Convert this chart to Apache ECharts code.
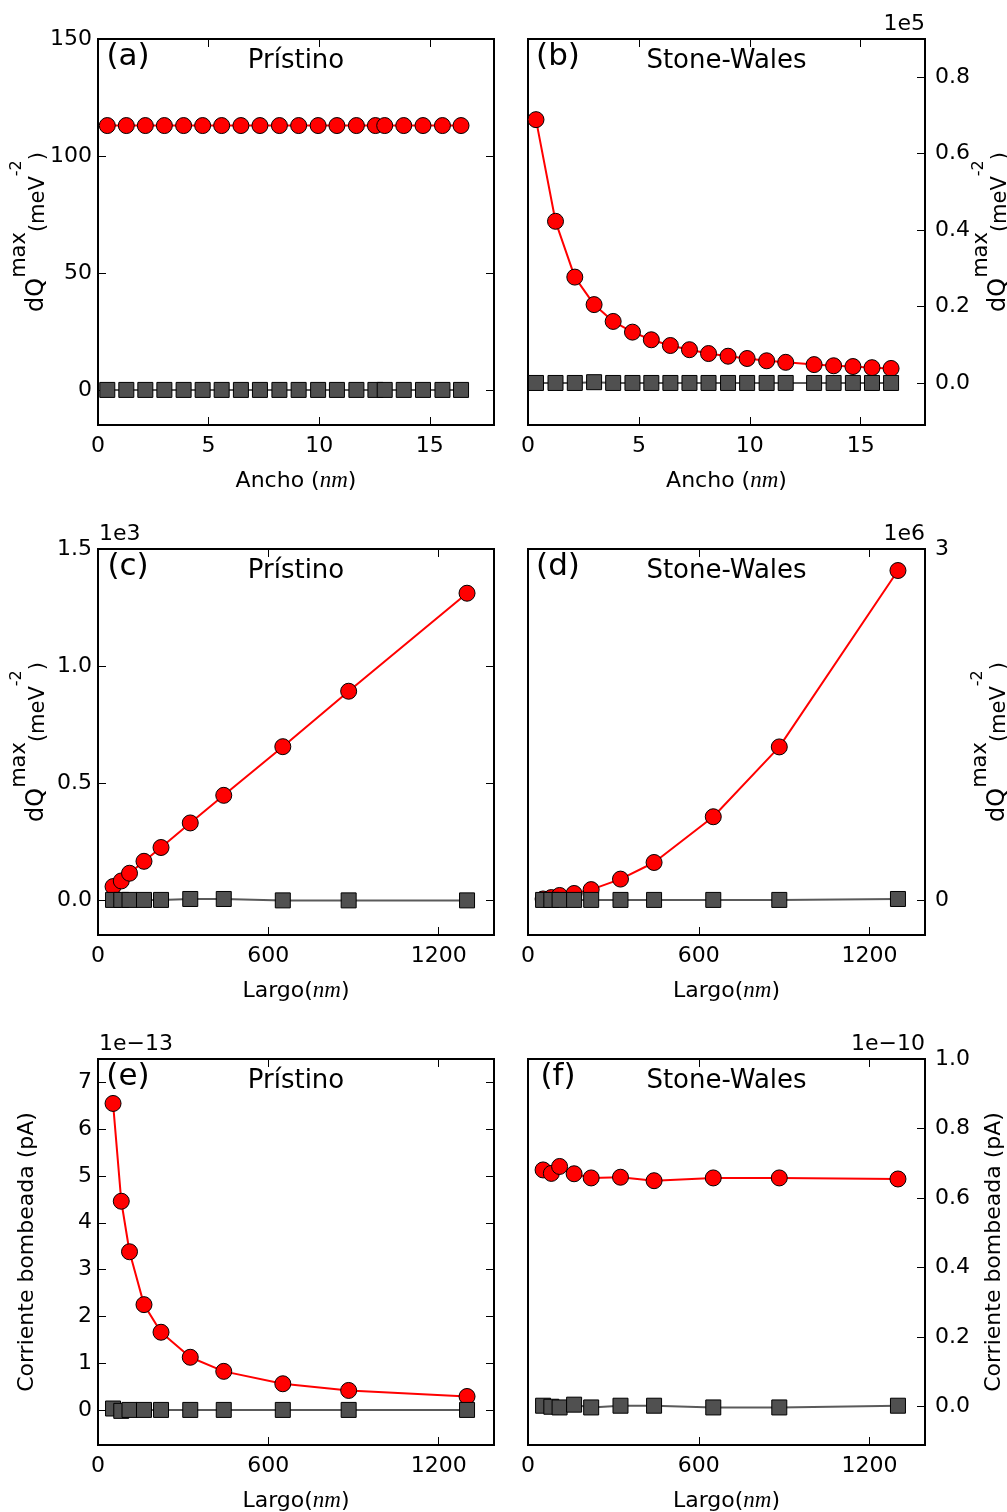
<!DOCTYPE html>
<head>
    <meta charset="utf-8"/>
    <style>
        html,body { height:100%; width:100%; margin:0; padding:0; background:#fff; }
        #chart { width:1007px; height:1512px; }
    </style>
</head>
<body>
<div id="chart"></div>

<script src="https://cdn.jsdelivr.net/npm/echarts@6/dist/echarts.min.js"></script>
<script type="text/javascript">

 // ---- datos ----
 // ancho de la cinta (nm), paneles (a) y (b)
 var anchoA = [0.42, 1.28, 2.14, 3.00, 3.87, 4.73, 5.59, 6.46, 7.32, 8.20, 9.07, 9.95, 10.80, 11.68, 12.54, 12.96, 13.82, 14.69, 15.57, 16.41];
 var anchoB = [0.36, 1.24, 2.11, 2.98, 3.84, 4.71, 5.56, 6.42, 7.28, 8.14, 9.02, 9.88, 10.76, 11.62, 12.90, 13.78, 14.65, 15.51, 16.37];
 // largo (nm), paneles (c)-(f)
 var largo = [53, 82, 111, 162, 222, 325, 443, 651, 883, 1300];

 // (a) dQmax vs ancho, pristino
 var dqAnchoPrist     = [113, 113, 113, 113, 113, 113, 113, 113, 113, 113, 113, 113, 113, 113, 113, 113, 113, 113, 113, 113];
 var dqAnchoPristGris = [0, 0, 0, 0, 0, 0, 0, 0, 0, 0, 0, 0, 0, 0, 0, 0, 0, 0, 0, 0];
 // (b) dQmax vs ancho, Stone-Wales  (x1e5)
 var dqAnchoSW     = [0.689, 0.423, 0.277, 0.205, 0.161, 0.133, 0.113, 0.098, 0.087, 0.077, 0.070, 0.064, 0.058, 0.054, 0.048, 0.045, 0.043, 0.040, 0.038];
 var dqAnchoSWGris = [0, 0, 0, 0.002, 0, 0, 0, 0, 0, 0, 0, 0, 0, 0, 0, 0, 0, 0, 0];
 // (c) dQmax vs largo, pristino  (x1e3)
 var dqLargoPrist     = [0.057, 0.081, 0.114, 0.165, 0.224, 0.329, 0.447, 0.655, 0.892, 1.311];
 var dqLargoPristGris = [0, 0, 0, 0, 0, 0.004, 0.004, -0.002, -0.002, -0.002];
 // (d) dQmax vs largo, Stone-Wales  (x1e6)
 var dqLargoSW     = [0.008, 0.020, 0.038, 0.055, 0.088, 0.178, 0.320, 0.711, 1.308, 2.816];
 var dqLargoSWGris = [0, 0, 0, 0, 0, 0, 0, 0, 0, 0.008];
 // (e) corriente bombeada, pristino  (x1e-13)
 var corrPrist     = [6.55, 4.46, 3.38, 2.25, 1.66, 1.125, 0.824, 0.559, 0.416, 0.287];
 var corrPristGris = [0.03, -0.02, 0, 0, 0, 0, 0, 0, 0, 0];
 // (f) corriente bombeada, Stone-Wales  (x1e-10)
 var corrSW     = [0.681, 0.671, 0.691, 0.670, 0.658, 0.660, 0.650, 0.658, 0.658, 0.655];
 var corrSWGris = [0.003, 0, -0.002, 0.006, -0.002, 0.003, 0.003, -0.002, -0.002, 0.003];

 // marcas de los ejes
 var ticksAncho = [0, 5, 10, 15];
 var ticksLargo = [0, 600, 1200];
 var ticksYa = [0, 50, 100, 150];
 var ticksYb = [0, 0.2, 0.4, 0.6, 0.8];
 var ticksYc = [0, 0.5, 1.0, 1.5];
 var ticksYd = [0, 3];
 var ticksYe = [0, 1, 2, 3, 4, 5, 6, 7];
 var ticksYf = [0, 0.2, 0.4, 0.6, 0.8, 1.0];

 // ---- estilo / layout ----
 var FONT = 'DejaVu Sans';
 var ROJO = '#ff0000';
 var GRIS = '#505050';
 var GRIS_LINEA = '#5a5a5a';
 var colLeft = [98, 528], colWidth = [396, 397];
 var rowTop = [39, 549, 1059], PH = 386;

 var grids = [], xAxes = [], yAxes = [], series = [], graphics = [];

 function pts(xs, ys) {
     return xs.map(function (x, i) { return [x, ys[i]]; });
 }

 function fix(n) { return function (v) { return Number(v).toFixed(n); }; }

 function axisCfg(g, min, max, ticks, pos, labels, margin, fmt) {
     return {
         type: 'value', gridIndex: g, position: pos, min: min, max: max,
         axisLine: { show: false, onZero: false },
         splitLine: { show: false },
         axisTick: { show: true, inside: true, length: 8, customValues: ticks,
                     lineStyle: { color: '#000', width: 1 } },
         axisLabel: { show: labels, customValues: ticks, margin: margin, formatter: fmt,
                      color: '#000', fontSize: 22, fontFamily: FONT }
     };
 }

 // dQ^max (meV^-2): superindices con verticalAlign dentro de la linea
 var supRich = {
     n:  { fontSize: 24, fontFamily: FONT, lineHeight: 40, verticalAlign: 'bottom', fill: '#000' },
     s:  { fontSize: 21, fontFamily: FONT, lineHeight: 15, verticalAlign: 'top', fill: '#000' },
     l:  { fontSize: 21, fontFamily: FONT, lineHeight: 38, verticalAlign: 'bottom', fill: '#000' },
     e:  { fontSize: 16, fontFamily: FONT, lineHeight: 20, verticalAlign: 'top', fill: '#000' }
 };
 var xRich = {
     n: { fontSize: 22, fontFamily: FONT, fill: '#000' },
     i: { fontSize: 23, fontFamily: 'Liberation Serif', fontStyle: 'italic', fill: '#000' }
 };
 var DQ = '{n|dQ}{s|max}{l|(meV}{e|-2}{l|)}';

 function addPanel(p) {
     var g = grids.length;
     var left = colLeft[p.col], width = colWidth[p.col], top = rowTop[p.row];
     grids.push({ left: left, top: top, width: width, height: PH, show: true,
                  borderColor: '#000', borderWidth: 2, backgroundColor: '#fff' });

     var xi = xAxes.length;
     xAxes.push(axisCfg(g, 0, p.xMax, p.xTicks, 'bottom', true, 10, fix(0)));
     xAxes.push(axisCfg(g, 0, p.xMax, p.xTicks, 'top', false, 8, fix(0)));

     var yi = yAxes.length;
     if (p.col === 0) {
         yAxes.push(axisCfg(g, p.yMin, p.yMax, p.yTicks, 'left', true, 6, p.yFmt));
         yAxes.push(axisCfg(g, p.yMin, p.yMax, p.yTicks, 'right', false, 8, p.yFmt));
     } else {
         yAxes.push(axisCfg(g, p.yMin, p.yMax, p.yTicks, 'right', true, 10, p.yFmt));
     }

     series.push({
         type: 'line', xAxisIndex: xi, yAxisIndex: yi, data: pts(p.x, p.rojo),
         symbol: 'circle', symbolSize: 16, showAllSymbol: true, silent: true, z: 3,
         lineStyle: { color: ROJO, width: 2 },
         itemStyle: { color: ROJO, borderColor: '#000', borderWidth: 1 }
     });
     series.push({
         type: 'line', xAxisIndex: xi, yAxisIndex: yi, data: pts(p.x, p.gris),
         symbol: 'rect', symbolSize: 15, showAllSymbol: true, silent: true, z: 4,
         lineStyle: { color: GRIS_LINEA, width: 2 },
         itemStyle: { color: GRIS, borderColor: '#000', borderWidth: 1 }
     });

     var cx = left + width / 2, bottom = top + PH;
     // letra del panel
     graphics.push({ type: 'text', x: left + 30, y: top + 18, z: 10,
         style: { text: p.letra, fontSize: 31, fontFamily: FONT, fill: '#000', align: 'center', verticalAlign: 'middle' } });
     // titulo
     graphics.push({ type: 'text', x: cx, y: top + 22, z: 10,
         style: { text: p.titulo, fontSize: 26, fontFamily: FONT, fill: '#000', align: 'center', verticalAlign: 'middle' } });
     // factor de escala
     if (p.factor) {
         graphics.push({ type: 'text', x: p.col === 0 ? left + 1 : left + width, y: top - 15, z: 10,
             style: { text: p.factor, fontSize: 22, fontFamily: FONT, fill: '#000',
                      align: p.col === 0 ? 'left' : 'right', verticalAlign: 'middle' } });
     }
     // nombre eje x
     graphics.push({ type: 'text', x: cx, y: bottom + 56, z: 10,
         style: { text: p.xNombre, rich: xRich, align: 'center', verticalAlign: 'middle' } });
     // nombre eje y (rotado)
     graphics.push({ type: 'text', x: p.yNombreX, y: top + PH / 2, rotation: Math.PI / 2, z: 10,
         style: p.yNombre === DQ
             ? { text: DQ, rich: supRich, align: 'center', verticalAlign: 'middle' }
             : { text: p.yNombre, fontSize: 22, fontFamily: FONT, fill: '#000', align: 'center', verticalAlign: 'middle' } });
 }

 var nombreAncho = '{n|Ancho (}{i|nm}{n|)}';
 var nombreLargo = '{n|Largo(}{i|nm}{n|)}';
 var nombreCorr = 'Corriente bombeada (pA)';

 addPanel({ row: 0, col: 0, letra: '(a)', titulo: 'Prístino', factor: null,
     x: anchoA, rojo: dqAnchoPrist, gris: dqAnchoPristGris, xMax: 17.9, xTicks: ticksAncho,
     yMin: -15, yMax: 150, yTicks: ticksYa, yFmt: fix(0),
     xNombre: nombreAncho, yNombre: DQ, yNombreX: 29 });
 addPanel({ row: 0, col: 1, letra: '(b)', titulo: 'Stone-Wales', factor: '1e5',
     x: anchoB, rojo: dqAnchoSW, gris: dqAnchoSWGris, xMax: 17.9, xTicks: ticksAncho,
     yMin: -0.11, yMax: 0.9, yTicks: ticksYb, yFmt: fix(1),
     xNombre: nombreAncho, yNombre: DQ, yNombreX: 991 });
 addPanel({ row: 1, col: 0, letra: '(c)', titulo: 'Prístino', factor: '1e3',
     x: largo, rojo: dqLargoPrist, gris: dqLargoPristGris, xMax: 1395, xTicks: ticksLargo,
     yMin: -0.15, yMax: 1.5, yTicks: ticksYc, yFmt: fix(1),
     xNombre: nombreLargo, yNombre: DQ, yNombreX: 29 });
 addPanel({ row: 1, col: 1, letra: '(d)', titulo: 'Stone-Wales', factor: '1e6',
     x: largo, rojo: dqLargoSW, gris: dqLargoSWGris, xMax: 1395, xTicks: ticksLargo,
     yMin: -0.3, yMax: 3, yTicks: ticksYd, yFmt: fix(0),
     xNombre: nombreLargo, yNombre: DQ, yNombreX: 990 });
 addPanel({ row: 2, col: 0, letra: '(e)', titulo: 'Prístino', factor: '1e\u221213',
     x: largo, rojo: corrPrist, gris: corrPristGris, xMax: 1395, xTicks: ticksLargo,
     yMin: -0.75, yMax: 7.5, yTicks: ticksYe, yFmt: fix(0),
     xNombre: nombreLargo, yNombre: nombreCorr, yNombreX: 27 });
 addPanel({ row: 2, col: 1, letra: '(f)', titulo: 'Stone-Wales', factor: '1e\u221210',
     x: largo, rojo: corrSW, gris: corrSWGris, xMax: 1395, xTicks: ticksLargo,
     yMin: -0.11, yMax: 1.0, yTicks: ticksYf, yFmt: fix(1),
     xNombre: nombreLargo, yNombre: nombreCorr, yNombreX: 994 });

 var chart = echarts.init(document.getElementById('chart'));
 chart.setOption({
     animation: false,
     backgroundColor: '#fff',
     grid: grids,
     xAxis: xAxes,
     yAxis: yAxes,
     series: series,
     graphic: graphics
 });

</script>
</body>
